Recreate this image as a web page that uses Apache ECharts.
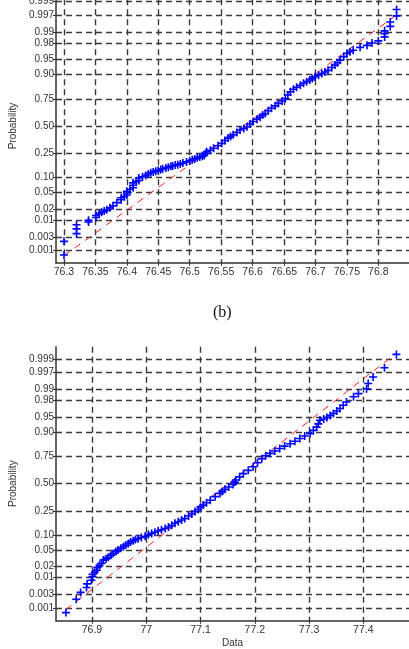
<!DOCTYPE html>
<html>
<head>
<meta charset="utf-8">
<script src="https://cdn.jsdelivr.net/npm/echarts@6/dist/echarts.min.js"></script>
<style>
  html, body { margin: 0; padding: 0; background: #fff; }
  #chart { width: 409px; height: 649px; }
</style>
</head>
<body>
<div id="chart"></div>
<script>
// probability ticks shown on both panels
const probTicks = ['0.001', '0.003', '0.01', '0.02', '0.05', '0.10', '0.25', '0.50',
  '0.75', '0.90', '0.95', '0.98', '0.99', '0.997', '0.999']
const topXTicks = [76.3, 76.35, 76.4, 76.45, 76.5, 76.55, 76.6, 76.65, 76.7, 76.75, 76.8]
const bottomXTicks = [76.9, 77, 77.1, 77.2, 77.3, 77.4]

// [data value, normal quantile]
const topPoints = [
  [76.300, -3.20], [76.300, -2.86], [76.320, -2.67], [76.320, -2.55], [76.320, -2.45],
  [76.339, -2.38], [76.339, -2.34], [76.351, -2.27], [76.351, -2.22], [76.356, -2.18],
  [76.360, -2.14], [76.364, -2.11], [76.368, -2.08], [76.373, -2.03], [76.378, -1.98],
  [76.384, -1.90], [76.391, -1.83], [76.391, -1.78], [76.396, -1.75], [76.400, -1.71],
  [76.400, -1.66], [76.400, -1.62], [76.405, -1.57], [76.410, -1.53], [76.410, -1.47],
  [76.410, -1.41], [76.415, -1.38], [76.419, -1.35], [76.419, -1.29], [76.425, -1.26],
  [76.430, -1.23], [76.434, -1.19], [76.438, -1.16], [76.442, -1.14], [76.446, -1.12],
  [76.450, -1.10], [76.454, -1.08], [76.457, -1.06], [76.462, -1.04], [76.466, -1.02],
  [76.470, -1.00], [76.473, -0.99], [76.477, -0.97], [76.481, -0.96], [76.485, -0.94],
  [76.489, -0.92], [76.495, -0.89], [76.500, -0.86], [76.504, -0.84], [76.508, -0.82],
  [76.512, -0.79], [76.516, -0.77], [76.520, -0.75], [76.523, -0.73], [76.525, -0.68],
  [76.527, -0.64], [76.533, -0.60], [76.538, -0.55], [76.545, -0.49], [76.551, -0.43],
  [76.556, -0.36], [76.561, -0.30], [76.565, -0.26], [76.569, -0.22], [76.575, -0.16],
  [76.580, -0.10], [76.586, -0.06], [76.591, -0.02], [76.596, 0.05], [76.601, 0.11],
  [76.607, 0.17], [76.612, 0.22], [76.616, 0.27], [76.620, 0.31], [76.625, 0.38],
  [76.630, 0.44], [76.636, 0.50], [76.641, 0.56], [76.647, 0.62], [76.652, 0.68],
  [76.656, 0.77], [76.660, 0.85], [76.665, 0.91], [76.670, 0.96], [76.676, 1.01],
  [76.681, 1.06], [76.686, 1.10], [76.691, 1.14], [76.695, 1.18], [76.699, 1.22],
  [76.705, 1.26], [76.710, 1.30], [76.715, 1.34], [76.720, 1.38], [76.726, 1.45],
  [76.731, 1.51], [76.735, 1.57], [76.739, 1.63], [76.745, 1.72], [76.750, 1.80],
  [76.755, 1.84], [76.760, 1.88], [76.771, 1.95], [76.782, 2.00], [76.790, 2.06],
  [76.800, 2.11], [76.810, 2.21], [76.810, 2.29], [76.810, 2.36], [76.819, 2.47],
  [76.819, 2.58], [76.829, 2.73], [76.829, 2.89]
]
const bottomPoints = [
  [76.852, -3.19], [76.871, -2.86], [76.879, -2.69], [76.890, -2.57], [76.891, -2.48],
  [76.899, -2.39], [76.901, -2.30], [76.901, -2.24], [76.905, -2.19], [76.909, -2.14],
  [76.910, -2.07], [76.914, -2.02], [76.918, -1.97], [76.921, -1.89], [76.926, -1.86],
  [76.930, -1.82], [76.935, -1.77], [76.939, -1.73], [76.944, -1.68], [76.948, -1.64],
  [76.953, -1.60], [76.958, -1.56], [76.962, -1.52], [76.967, -1.48], [76.971, -1.44],
  [76.976, -1.41], [76.980, -1.38], [76.985, -1.36], [76.991, -1.33], [76.998, -1.30],
  [77.004, -1.26], [77.010, -1.23], [77.016, -1.20], [77.022, -1.17], [77.028, -1.14],
  [77.035, -1.11], [77.041, -1.07], [77.047, -1.03], [77.053, -0.98], [77.059, -0.94],
  [77.065, -0.90], [77.071, -0.86], [77.078, -0.80], [77.084, -0.75], [77.090, -0.69],
  [77.096, -0.64], [77.100, -0.58], [77.105, -0.53], [77.111, -0.47], [77.118, -0.41],
  [77.127, -0.32], [77.136, -0.24], [77.140, -0.19], [77.145, -0.14], [77.152, -0.08],
  [77.160, -0.02], [77.163, 0.04], [77.165, 0.09], [77.172, 0.17], [77.179, 0.25],
  [77.188, 0.33], [77.197, 0.42], [77.205, 0.52], [77.213, 0.62], [77.220, 0.69],
  [77.228, 0.75], [77.237, 0.81], [77.246, 0.87], [77.255, 0.93], [77.265, 0.99],
  [77.274, 1.05], [77.283, 1.12], [77.292, 1.18], [77.302, 1.24], [77.308, 1.32],
  [77.314, 1.40], [77.317, 1.48], [77.320, 1.57], [77.327, 1.60], [77.333, 1.64],
  [77.339, 1.69], [77.345, 1.74], [77.351, 1.80], [77.357, 1.86], [77.363, 1.94],
  [77.369, 2.02], [77.382, 2.15], [77.391, 2.23], [77.406, 2.35], [77.409, 2.48],
  [77.418, 2.64], [77.439, 2.87], [77.461, 3.20]
]

// fitted normal (mean, sd) for the red reference lines
const topFit = [76.585, 0.0886]
const bottomFit = [77.151, 0.096]

// inverse normal CDF (Acklam) - used for the probability scale
function norminv (p) {
  const a = [-39.69683028665376, 220.9460984245205, -275.9285104469687, 138.3577518672690, -30.66479806614716, 2.506628277459239]
  const b = [-54.47609879822406, 161.5858368580409, -155.6989798598866, 66.80131188771972, -13.28068155288572]
  const c = [-0.007784894002430293, -0.3223964580411365, -2.400758277161838, -2.549732539343734, 4.374664141464968, 2.938163982698783]
  const d = [0.007784695709041462, 0.3224671290700398, 2.445134137142996, 3.754408661907416]
  const tail = q => (((((c[0] * q + c[1]) * q + c[2]) * q + c[3]) * q + c[4]) * q + c[5]) /
    ((((d[0] * q + d[1]) * q + d[2]) * q + d[3]) * q + 1)
  if (p < 0.02425) return tail(Math.sqrt(-2 * Math.log(p)))
  if (p > 1 - 0.02425) return -tail(Math.sqrt(-2 * Math.log(1 - p)))
  const q = p - 0.5
  const r = q * q
  return (((((a[0] * r + a[1]) * r + a[2]) * r + a[3]) * r + a[4]) * r + a[5]) * q /
    (((((b[0] * r + b[1]) * r + b[2]) * r + b[3]) * r + b[4]) * r + 1)
}

const probValues = probTicks.map(t => norminv(parseFloat(t)))
const probLabel = {}
probTicks.forEach((t, i) => { probLabel[probValues[i].toFixed(4)] = t })

function fitLine (points, fit) {
  const xs = points.map(p => p[0])
  const lo = Math.min(...xs)
  const hi = Math.max(...xs)
  return [[lo, (lo - fit[0]) / fit[1]], [hi, (hi - fit[0]) / fit[1]]]
}

const font = "'Liberation Sans', Arial, sans-serif"
const plus = 'path://M0,4H10V6H0Z M4,0H6V10H4Z'
const gridLine = { show: true, lineStyle: { color: '#3a3a3a', width: 1.4, type: [6, 4] } }
const axisLine = { show: true, onZero: false, lineStyle: { color: '#333', width: 1.5 } }

function xAxis (idx, ticks, min, max, name) {
  return {
    type: 'value',
    gridIndex: idx,
    min,
    max,
    name,
    nameLocation: 'middle',
    nameGap: 18,
    nameTextStyle: { fontFamily: font, fontSize: 10, color: '#333' },
    axisLine,
    axisTick: { show: true, inside: false, length: 3, customValues: ticks, lineStyle: { color: '#333' } },
    axisLabel: {
      customValues: ticks,
      margin: 4,
      fontFamily: font,
      fontSize: 10.5,
      color: '#333',
      formatter: v => String(parseFloat(v.toFixed(3)))
    },
    splitLine: gridLine
  }
}

function yAxis (idx) {
  return {
    type: 'value',
    gridIndex: idx,
    min: -3.39,
    max: 3.39,
    name: 'Probability',
    nameLocation: 'middle',
    nameGap: 32,
    nameTextStyle: { fontFamily: font, fontSize: 10, color: '#333' },
    axisLine,
    axisTick: { show: true, inside: false, length: 3, customValues: probValues, lineStyle: { color: '#333' } },
    axisLabel: {
      customValues: probValues,
      margin: 2,
      fontFamily: font,
      fontSize: 10,
      color: '#333',
      formatter: v => probLabel[v.toFixed(4)] || ''
    },
    splitLine: gridLine
  }
}

function refLine (idx, points, fit) {
  return {
    type: 'line',
    xAxisIndex: idx,
    yAxisIndex: idx,
    data: fitLine(points, fit),
    showSymbol: false,
    lineStyle: { color: '#ff2020', width: 1, type: [7, 6] },
    z: 2
  }
}

function scatter (idx, points) {
  return {
    type: 'scatter',
    xAxisIndex: idx,
    yAxisIndex: idx,
    data: points,
    symbol: plus,
    symbolSize: 8,
    itemStyle: { color: '#0000ff', opacity: 1 },
    z: 3
  }
}

const chart = echarts.init(document.getElementById('chart'))
chart.setOption({
  animation: false,
  backgroundColor: '#fff',
  grid: [
    { left: 56, top: -10.7, width: 353, height: 273.4, outerBoundsMode: 'none' },
    { left: 56, top: 346.7, width: 353, height: 274, outerBoundsMode: 'none' }
  ],
  xAxis: [
    xAxis(0, topXTicks, 76.2873, 76.8488, ''),
    xAxis(1, bottomXTicks, 76.8337, 77.4842, 'Data')
  ],
  yAxis: [yAxis(0), yAxis(1)],
  graphic: [{
    type: 'text',
    left: 213,
    top: 305,
    style: { text: '(b)', font: "16px 'Liberation Serif', 'Times New Roman', serif", fill: '#111' }
  }],
  series: [
    refLine(0, topPoints, topFit),
    scatter(0, topPoints),
    refLine(1, bottomPoints, bottomFit),
    scatter(1, bottomPoints)
  ]
})
</script>
</body>
</html>
